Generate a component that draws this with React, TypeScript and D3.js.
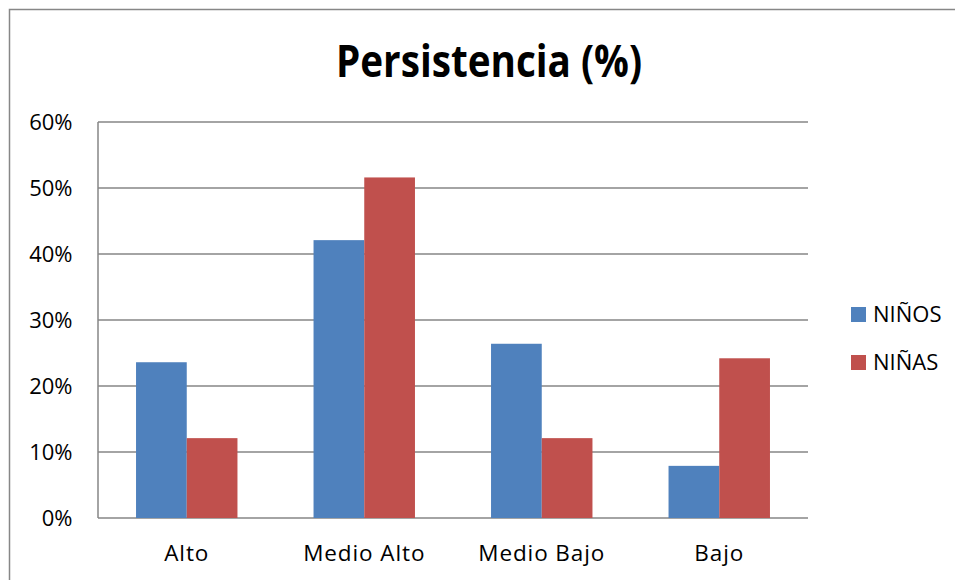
import React from "react";
import * as d3 from "d3";

const categories = ["Alto", "Medio Alto", "Medio Bajo", "Bajo"];
const seriesNames = ["NIÑOS", "NIÑAS"];
const ninos = [0.236, 0.421, 0.264, 0.079];
const ninas = [0.121, 0.516, 0.121, 0.242];
const yTicks = [0, 0.1, 0.2, 0.3, 0.4, 0.5, 0.6];
const colors = ["#4F81BD", "#C0504D"];
const title = "Persistencia (%)";

const W = 955;
const H = 580;
const left = 98;
const right = 808;
const top = 122;
const bottom = 518;
const font = "'Open Sans', 'DejaVu Sans', sans-serif";

export default function App() {
  const x = d3.scaleBand<string>().domain(categories).range([left, right]).padding(0);
  const xs = d3
    .scaleBand<string>()
    .domain(seriesNames)
    .range([0, x.bandwidth()])
    .paddingInner(0)
    .paddingOuter(0.75);
  const y = d3.scaleLinear().domain([0, 0.6]).range([bottom, top]);
  const fmt = d3.format(".0%");
  const data = [ninos, ninas];

  return (
    <svg
      width={W}
      height={H}
      style={{ position: "absolute", left: 0, top: 0, background: "#fff" }}
      fontFamily={font}
    >
      <rect x={0} y={0} width={W} height={H} fill="#fff" />
      <rect x={9.5} y={9.5} width={W + 20} height={H + 20} fill="none" stroke="#878787" strokeWidth={1.5} />
      <text
        x={336}
        y={77}
        fontSize={44}
        fontWeight="bold"
        fill="#000"
        textLength={306}
        lengthAdjust="spacingAndGlyphs"
      >
        {title}
      </text>
      {yTicks.map((t) => (
        <g key={t}>
          <line x1={left} x2={right} y1={y(t)} y2={y(t)} stroke="#868686" strokeWidth={1.5} />
          <text x={72.5} y={y(t) + 7.8} textAnchor="end" fontSize={22} fill="#000">
            {fmt(t)}
          </text>
        </g>
      ))}
      <line x1={left} x2={left} y1={top} y2={bottom} stroke="#868686" strokeWidth={1.5} />
      {categories.map((c, i) => (
        <g key={c}>
          {seriesNames.map((s, j) => (
            <rect
              key={s}
              x={(x(c) as number) + (xs(s) as number)}
              y={y(data[j][i])}
              width={xs.bandwidth()}
              height={bottom - y(data[j][i])}
              fill={colors[j]}
            />
          ))}
          <text
            x={(x(c) as number) + x.bandwidth() / 2}
            y={561}
            textAnchor="middle"
            fontSize={22.5}
            letterSpacing={0.9}
            fill="#000"
          >
            {c}
          </text>
        </g>
      ))}
      {seriesNames.map((s, j) => (
        <g key={s}>
          <rect x={851} y={307 + j * 48} width={15} height={15} fill={colors[j]} />
          <text x={873} y={322 + j * 48} fontSize={22} fill="#000">
            {s}
          </text>
        </g>
      ))}
    </svg>
  );
}
